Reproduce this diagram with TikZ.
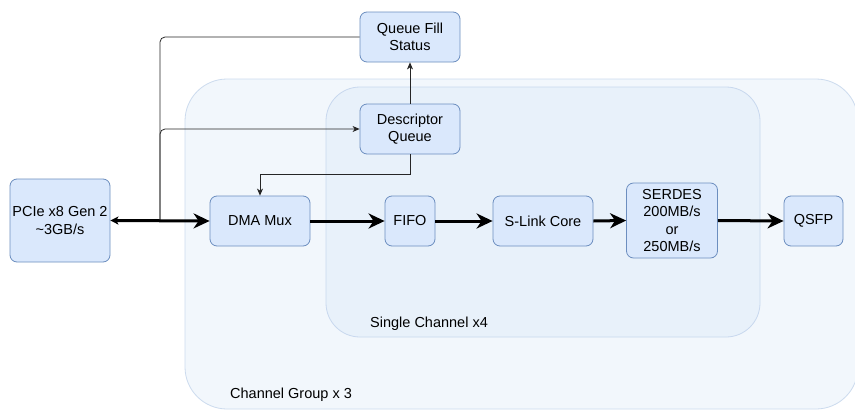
\documentclass[tikz,border=0pt]{standalone}
\usepackage{fontspec}
\setmainfont{Liberation Sans}
\usetikzlibrary{arrows.meta}
\definecolor{nodefill}{RGB}{218,232,252}
\definecolor{nodedraw}{RGB}{108,142,191}
\definecolor{outerfill}{RGB}{242,247,252}
\definecolor{outerdraw}{RGB}{204,219,238}
\definecolor{innerfill}{RGB}{232,241,250}
\definecolor{innerdraw}{RGB}{200,216,238}
\begin{document}
\begin{tikzpicture}[x=1pt,y=-1pt,
  blk/.style={draw=nodedraw,fill=nodefill,rounded corners=7pt,line width=0.8pt,
    align=center,font=\fontsize{14.5}{17.5}\selectfont,inner sep=0pt},
  thick arrow/.style={line width=3pt,-{Stealth[length=16pt,width=15pt,inset=5pt]}},
  thin line/.style={line width=0.8pt,draw=black!85},
  thin arrow/.style={thin line,-{Stealth[length=7pt,width=6pt,inset=2pt]}},
  lbl/.style={font=\fontsize{14.5}{17.5}\selectfont,anchor=base west,inner sep=0pt}]
\useasboundingbox (0,0) rectangle (855,410);
\fill[white] (0,0) rectangle (855,410);
% containers
\path[draw=outerdraw,fill=outerfill,line width=0.8pt,rounded corners=42pt] (185,79) rectangle (858,409);
\path[draw=innerdraw,fill=innerfill,line width=0.8pt,rounded corners=34pt] (326,87) rectangle (760,337);
\node[lbl] (cg) at (230,398) {Channel Group x 3};
\node[lbl] (sc) at (370,327) {Single Channel x4};
% blocks
\node[blk,minimum width=100pt,minimum height=83pt] (pcie) at (60,220.5) {PCIe x8 Gen 2\\\textasciitilde3GB/s};
\node[blk,minimum width=100pt,minimum height=50pt] (dma) at (260,221) {DMA Mux};
\node[blk,minimum width=50pt,minimum height=50pt] (fifo) at (410,221) {FIFO};
\node[blk,minimum width=100pt,minimum height=50pt] (slink) at (543,221) {S-Link Core};
\node[blk,minimum width=91pt,minimum height=75pt] (serdes) at (672,220.5) {SERDES\\200MB/s\\or\\250MB/s};
\node[blk,minimum width=59pt,minimum height=50pt] (qsfp) at (813.5,221) {QSFP};
\node[blk,minimum width=100pt,minimum height=50pt] (qfs) at (410,37) {Queue Fill\\Status};
\node[blk,minimum width=100pt,minimum height=50pt] (dq) at (410,129) {Descriptor\\Queue};
\coordinate (tap) at (160,221);
% thin connectors
\draw[thin line,rounded corners=5pt] (qfs.west) -| (tap);
\draw[thin arrow,rounded corners=5pt] (tap) |- (dq.west);
\draw[thin arrow] (dq.north) -- (qfs.south);
\draw[thin arrow] (dq.south) -- ++(0,20) -| (dma.north);
% thick connectors
\draw[line width=3pt,{Stealth[length=8pt,width=8pt,inset=2pt]}-{Stealth[length=16pt,width=15pt,inset=5pt]}] (pcie.east) -- (dma.west);
\draw[thick arrow] (dma.east) -- (fifo.west);
\draw[thick arrow] (fifo.east) -- (slink.west);
\draw[thick arrow] (slink.east) -- (serdes.west);
\draw[thick arrow] (serdes.east) -- (qsfp.west);
\end{tikzpicture}
\end{document}
